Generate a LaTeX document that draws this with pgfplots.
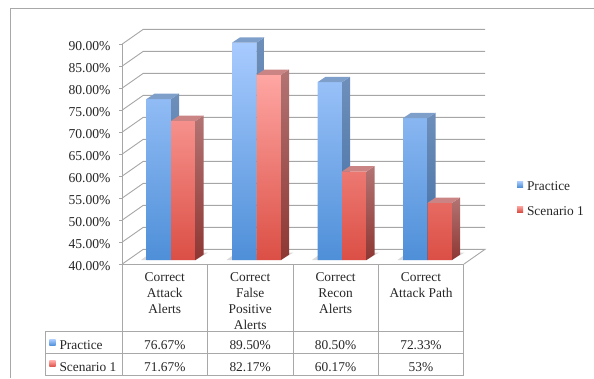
\documentclass[border=0pt]{standalone}
\usepackage{fontspec}
\setmainfont{Liberation Serif}
\usepackage{pgfplots}
\pgfplotsset{compat=1.18}

\definecolor{gridgray}{HTML}{A6A6A6}
\definecolor{rulegray}{HTML}{A8A8A8}
\definecolor{inkdark}{HTML}{262626}
\definecolor{blueTop}{HTML}{A8CBFF}
\definecolor{blueBot}{HTML}{4E8FD8}
\definecolor{blueSideTop}{HTML}{6E8FBA}
\definecolor{blueSideBot}{HTML}{3F6DA3}
\definecolor{blueCap}{HTML}{7F9FCB}
\definecolor{redTop}{HTML}{FFA6A3}
\definecolor{redBot}{HTML}{DB4F45}
\definecolor{redSideTop}{HTML}{B27473}
\definecolor{redSideBot}{HTML}{8E3733}
\definecolor{redCap}{HTML}{CB8484}

\pgfplotsset{gridline/.style={draw=gridgray,solid,line width=0.9pt,mark=none,forget plot}}

% Side and cap faces of a 3-D column: #1 right edge, #2 value, #3 side top, #4 side bottom, #5 cap
\newcommand{\columnfaces}[5]{%
  \pgfmathsetmacro\xback{#1+8}%
  \pgfmathsetmacro\xleft{#1-24.5}%
  \pgfmathsetmacro\xcap{#1-16.5}%
  \pgfmathsetmacro\vback{#2+1.21}%
  \addplot[draw=none,top color=#3,bottom color=#4] coordinates {(#1,40)(#1,#2)(\xback,\vback)(\xback,41.21)} -- cycle;
  \addplot[draw=none,fill=#5] coordinates {(\xleft,#2)(#1,#2)(\xback,\vback)(\xcap,\vback)} -- cycle;
}
% Soft floor shadow around a pair of columns, centred on #1
\newcommand{\floorshadow}[1]{%
  \pgfmathsetmacro\xa{#1-30}\pgfmathsetmacro\xb{#1-24}\pgfmathsetmacro\xc{#1+24.5}\pgfmathsetmacro\xd{#1+37}\pgfmathsetmacro\xe{#1+31}%
  \addplot[draw=none,fill=black!15] coordinates {(\xa,40)(\xb,41)(\xe,41.7)(\xd,41.7)(\xc,40)} -- cycle;
}

\begin{document}
\begin{tikzpicture}
\begin{scope}[x=1pt,y=-1pt]
  \path[use as bounding box] (0,0) rectangle (594,378);
  % outer chart frame
  \draw[rulegray,line width=0.9pt] (10.7,378) -- (10.7,8.7) -- (594,8.7);
\end{scope}

% value axis on the front plane, with the back wall and floor grid
\begin{axis}[
  at={(122.3pt,-264pt)},anchor=south west,
  x=1pt,y=4.4pt,
  xmin=122.3,xmax=464,ymin=40,ymax=90,
  clip=false,
  axis y line=left,
  axis x line=none,
  axis line style={gridgray,line width=0.9pt,-},
  ytick={40,45,...,90},
  tick style={gridgray,line width=0.9pt},
  tick align=outside,
  major tick length=3.5pt,
  yticklabel={\pgfmathprintnumber{\tick}\%},
  yticklabel style={
    /pgf/number format/fixed,
    /pgf/number format/zerofill,
    /pgf/number format/precision=2,
    /pgf/number format/assume math mode=true,
    font=\fontsize{13.6}{16}\selectfont,
    text=inkdark,
    yshift=-1.8pt,
    xshift=-4.8pt},
]
\addplot[gridline] coordinates {(122.3,40)(143.3,43.34)(485,43.34)(464,40)};
\addplot[gridline] coordinates {(122.3,45)(143.3,48.34)(485,48.34)};
\addplot[gridline] coordinates {(122.3,50)(143.3,53.34)(485,53.34)};
\addplot[gridline] coordinates {(122.3,55)(143.3,58.34)(485,58.34)};
\addplot[gridline] coordinates {(122.3,60)(143.3,63.34)(485,63.34)};
\addplot[gridline] coordinates {(122.3,65)(143.3,68.34)(485,68.34)};
\addplot[gridline] coordinates {(122.3,70)(143.3,73.34)(485,73.34)};
\addplot[gridline] coordinates {(122.3,75)(143.3,78.34)(485,78.34)};
\addplot[gridline] coordinates {(122.3,80)(143.3,83.34)(485,83.34)};
\addplot[gridline] coordinates {(122.3,85)(143.3,88.34)(485,88.34)};
\addplot[gridline] coordinates {(122.3,90)(143.3,93.34)(485,93.34)};
\end{axis}

% columns, standing slightly behind the front plane
\begin{axis}[
  at={(0pt,-260pt)},anchor=south west,
  x=1pt,y=4.39pt,
  xmin=0,xmax=594,ymin=40,ymax=90,
  clip=false,
  axis lines=none,
  no markers,
]
\floorshadow{171}
\floorshadow{256.5}
\floorshadow{342}
\floorshadow{427.5}

\addplot[ybar,bar width=24.5pt,bar shift=-12.25pt,draw=none,top color=blueTop,bottom color=blueBot]
  coordinates {(171,76.67)(256.5,89.50)(342,80.50)(427.5,72.33)};
\columnfaces{171}{76.67}{blueSideTop}{blueSideBot}{blueCap}
\columnfaces{256.5}{89.50}{blueSideTop}{blueSideBot}{blueCap}
\columnfaces{342}{80.50}{blueSideTop}{blueSideBot}{blueCap}
\columnfaces{427.5}{72.33}{blueSideTop}{blueSideBot}{blueCap}

\addplot[ybar,bar width=24.5pt,bar shift=12.25pt,draw=none,top color=redTop,bottom color=redBot]
  coordinates {(171,71.67)(256.5,82.17)(342,60.17)(427.5,53)};
\columnfaces{195.5}{71.67}{redSideTop}{redSideBot}{redCap}
\columnfaces{281}{82.17}{redSideTop}{redSideBot}{redCap}
\columnfaces{366.5}{60.17}{redSideTop}{redSideBot}{redCap}
\columnfaces{452}{53}{redSideTop}{redSideBot}{redCap}
\end{axis}

\begin{scope}[x=1pt,y=-1pt,every node/.style={inner sep=0pt,text=inkdark,font=\fontsize{13.4}{16}\selectfont}]
  % data table below the columns
  \draw[rulegray,line width=0.9pt]
    (122.3,264) -- (463.7,264)
    (45,331.7) -- (463.7,331.7)
    (45,353.7) -- (463.7,353.7)
    (45,375.3) -- (463.7,375.3)
    (45,331.7) -- (45,375.3)
    (122.3,264) -- (122.3,375.3)
    (207.5,264) -- (207.5,375.3)
    (293,264) -- (293,375.3)
    (378.3,264) -- (378.3,375.3)
    (463.7,264) -- (463.7,375.3);
  \node[anchor=north,align=center] at (164.8,272.3) {Correct\\Attack\\Alerts};
  \node[anchor=north,align=center] at (250.2,272.3) {Correct\\False\\Positive\\Alerts};
  \node[anchor=north,align=center] at (335.6,272.3) {Correct\\Recon\\Alerts};
  \node[anchor=north,align=center] at (421,272.3) {Correct\\Attack Path};

  \foreach \cx/\a/\b in {164.8/76.67\%/71.67\%,250.2/89.50\%/82.17\%,335.6/80.50\%/60.17\%,421/72.33\%/53\%}{
    \node[anchor=base] at (\cx,349.2) {\a};
    \node[anchor=base] at (\cx,371.2) {\b};
  }
  \node[anchor=base west] at (59.3,349.2) {Practice};
  \node[anchor=base west] at (59.3,371.2) {Scenario 1};
  \shade[top color=blueTop,bottom color=blueBot] (49.3,339.5) rectangle (55.5,345.5);
  \shade[top color=redTop,bottom color=redBot] (49.3,360.8) rectangle (55.5,366.8);

  % legend beside the plot
  \shade[top color=blueTop,bottom color=blueBot] (517,181.3) rectangle (523.2,187.3);
  \shade[top color=redTop,bottom color=redBot] (517,206) rectangle (523.2,212);
  \node[anchor=base west] at (526.8,190) {Practice};
  \node[anchor=base west] at (526.8,215) {Scenario 1};
\end{scope}
\end{tikzpicture}
\end{document}
